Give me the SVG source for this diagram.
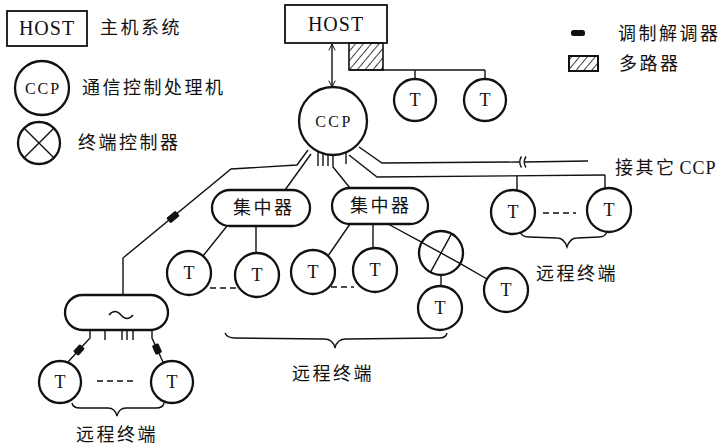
<svg xmlns="http://www.w3.org/2000/svg" width="723" height="445" viewBox="0 0 723 445">
<style>
.ln{stroke:#111;stroke-width:1.4;fill:none}
.nd{stroke:#111;stroke-width:2.3;fill:#fff}
.bx{stroke:#111;stroke-width:1.8;fill:#fff}
.ser{font-family:"Liberation Serif",serif;fill:#111;text-anchor:middle}
.t{font-size:18px}
.cn{font-family:"Noto Sans CJK SC","Noto Sans CJK TC",sans-serif;font-size:18px;fill:#111;letter-spacing:2.5px}
.md{fill:#111}
</style>
<defs>
<pattern id="hatch" patternUnits="userSpaceOnUse" width="6" height="6" patternTransform="rotate(40)">
<line x1="0" y1="0" x2="0" y2="6" stroke="#111" stroke-width="1.6"/>
</pattern>
<marker id="arr" viewBox="0 0 10 10" refX="9" refY="5" markerWidth="8" markerHeight="8" orient="auto-start-reverse" markerUnits="userSpaceOnUse">
<path d="M1,1 L9,5 L1,9" fill="none" stroke="#111" stroke-width="1.2"/>
</marker>
</defs>
<rect width="723" height="445" fill="#fff"/>

<g id="legend">
<g id="leg-host"><rect class="bx" x="7" y="11" width="80" height="35"/><text class="ser" x="47" y="35" font-size="20" letter-spacing="1">HOST</text><text class="cn" x="100" y="34">主机系统</text></g>
<g id="leg-ccp"><circle class="nd" cx="42" cy="88" r="27"/><text class="ser" x="43" y="94" font-size="16" letter-spacing="2">CCP</text><text class="cn" x="82" y="94">通信控制处理机</text></g>
<g id="leg-tc"><circle class="nd" cx="39" cy="143" r="21"/><path class="ln" d="M24.2,128.2 L53.8,157.8 M53.8,128.2 L24.2,157.8"/><text class="cn" x="78" y="149">终端控制器</text></g>
<g id="leg-modem"><rect class="md" x="571" y="30" width="14" height="6" rx="2.5"/><text class="cn" x="618" y="40">调制解调器</text></g>
<g id="leg-mux"><rect x="569" y="56" width="29" height="15" fill="url(#hatch)" stroke="#111" stroke-width="2"/><text class="cn" x="619" y="70">多路器</text></g>
</g>

<g id="connectors">
<line class="ln" x1="332" y1="44" x2="332" y2="87" marker-start="url(#arr)" marker-end="url(#arr)"/>
<polyline class="ln" points="349,70 485,70"/>
<line class="ln" x1="415" y1="70" x2="415" y2="79"/>
<line class="ln" x1="485" y1="70" x2="485" y2="79"/>
<!-- CCP fan-out -->
<polyline class="ln" points="308,150 297,165 231,169 123,258 123,295"/>
<line class="ln" x1="311" y1="154" x2="285" y2="190"/>
<path class="ln" d="M318,151.5 V166 M323,153.5 V166 M328,154.6 V166 M346,152.4 V164"/>
<polyline class="ln" points="333,155 333,167 350,188"/>
<polyline class="ln" points="359,147 382,163 519,162"/>
<path class="ln" d="M521.5,156.5 q-3.5,5.5 0,11 M526,156.5 q-3.5,5.5 0,11"/>
<line class="ln" x1="524" y1="162" x2="588" y2="161"/>
<polyline class="ln" points="349,155 377,177 605,175"/>
<line class="ln" x1="517" y1="176" x2="517" y2="190"/>
<line class="ln" x1="605" y1="175" x2="605" y2="188"/>
<!-- concentrators to terminals -->
<line class="ln" x1="227" y1="226" x2="203" y2="256"/>
<line class="ln" x1="256" y1="226" x2="256" y2="253"/>
<line class="ln" x1="350" y1="224" x2="328" y2="256"/>
<line class="ln" x1="373" y1="224" x2="373" y2="248"/>
<line class="ln" x1="388" y1="224" x2="422" y2="242.4"/>
<line class="ln" x1="460.3" y1="263.6" x2="487" y2="279"/>
<line class="ln" x1="441" y1="275" x2="441" y2="286"/>
<!-- lower left -->
<path class="ln" d="M105,330 V340 M122,330 V340 M127,330 V340 M133,330 V340"/>
<polyline class="ln" points="90,330 90,338 68,362"/>
<polyline class="ln" points="152,330 152,338 163,362"/>
<!-- dashes -->
<path class="ln" d="M210,288 H238 M331,287 H354 M543,213 H576 M97,381 H134" stroke-dasharray="6,4"/>
<!-- braces -->
<path class="ln" d="M72,403 q1,5 8,5 L108,408 q7,0 9,8 q2,-8 9,-8 L156,408 q7,0 8,-5"/>
<path class="ln" d="M225,333 q2,5 10,5 L324,339 q9,0 11,9 q2,-9 11,-9 L439,338 q7,0 8,-5"/>
<path class="ln" d="M520,231 q1,6 9,6 L557,238 q7,0 10,9 q3,-9 10,-9 L599,237 q7,0 8,-6"/>
<!-- modems -->
<rect class="md" x="-6" y="-3.5" width="12" height="7" rx="1.5" transform="translate(173,217) rotate(-39.5)"/>
<rect class="md" x="-5" y="-3.5" width="10" height="7" rx="1.5" transform="translate(79,350) rotate(-47.5)"/>
<rect class="md" x="-5" y="-3.5" width="10" height="7" rx="1.5" transform="translate(157,349) rotate(65.4)"/>
</g>

<g id="host"><rect class="bx" x="285" y="5" width="102" height="38"/><text class="ser" x="336" y="31" font-size="20" letter-spacing="1">HOST</text></g>
<g id="mux"><rect x="349" y="43" width="34" height="27" fill="url(#hatch)" stroke="#111" stroke-width="1.6"/></g>
<g id="ccp"><circle class="nd" cx="333" cy="121" r="34"/><text class="ser" x="334" y="127" font-size="16" letter-spacing="2.5">CCP</text></g>
<g id="t-h1"><circle class="nd" cx="415" cy="100" r="21"/><text class="ser t" x="415" y="106">T</text></g>
<g id="t-h2"><circle class="nd" cx="485" cy="100" r="21"/><text class="ser t" x="485" y="106">T</text></g>
<g id="conc1"><rect class="nd" x="212" y="190" width="98" height="36" rx="18"/><text class="cn" x="233" y="214" letter-spacing="3">集中器</text></g>
<g id="conc2"><rect class="nd" x="332" y="188" width="96" height="36" rx="18"/><text class="cn" x="350" y="212" letter-spacing="3">集中器</text></g>
<g id="t-c1"><circle class="nd" cx="189" cy="273" r="22"/><text class="ser t" x="189" y="279">T</text></g>
<g id="t-c2"><circle class="nd" cx="257" cy="275" r="22"/><text class="ser t" x="257" y="281">T</text></g>
<g id="t-c3"><circle class="nd" cx="313" cy="272" r="22"/><text class="ser t" x="313" y="278">T</text></g>
<g id="t-c4"><circle class="nd" cx="375" cy="270" r="22"/><text class="ser t" x="375" y="276">T</text></g>
<g id="tc"><circle class="nd" cx="441" cy="253" r="22"/><path class="ln" d="M421.7,242.4 L460.3,263.6 M451.6,233.7 L430.4,272.3"/></g>
<g id="t-tc1"><circle class="nd" cx="440" cy="308" r="22"/><text class="ser t" x="440" y="314">T</text></g>
<g id="t-tc2"><circle class="nd" cx="506" cy="290" r="22"/><text class="ser t" x="506" y="296">T</text></g>
<g id="t-r1"><circle class="nd" cx="513" cy="212" r="22"/><text class="ser t" x="513" y="218">T</text></g>
<g id="t-r2"><circle class="nd" cx="609" cy="210" r="22"/><text class="ser t" x="609" y="216">T</text></g>
<g id="mpx"><rect class="nd" x="65" y="295" width="103" height="35" rx="17.5"/><path class="ln" d="M109,315 q6,-7 12,0 t12,0" stroke-width="1.6"/></g>
<g id="t-l1"><circle class="nd" cx="60" cy="382" r="21"/><text class="ser t" x="60" y="388">T</text></g>
<g id="t-l2"><circle class="nd" cx="172" cy="382" r="21"/><text class="ser t" x="172" y="388">T</text></g>

<g id="labels">
<text class="cn" x="615" y="174">接其它</text><text class="ser" x="698" y="174" font-size="18" letter-spacing="1">CCP</text>
<text class="cn" x="536" y="280">远程终端</text>
<text class="cn" x="292" y="380">远程终端</text>
<text class="cn" x="76" y="441">远程终端</text>
</g>
</svg>
